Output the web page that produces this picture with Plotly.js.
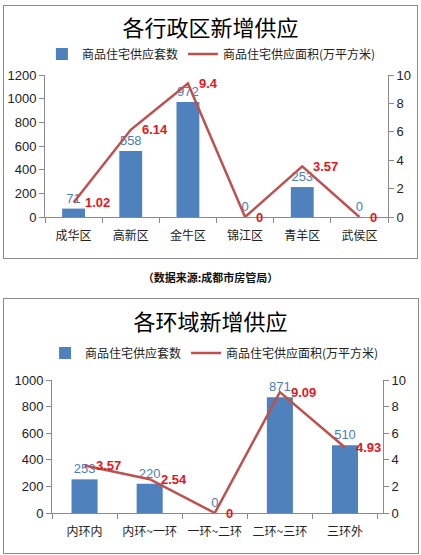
<!DOCTYPE html>
<html>
<head>
<meta charset="utf-8">
<script src="https://cdn.plot.ly/plotly-3.0.1.min.js"></script>
<style>
html,body{margin:0;padding:0;background:#fff;width:421px;height:555px;overflow:hidden;}
#c1{position:absolute;left:0;top:0;width:421px;height:262px;}
#c2{position:absolute;left:0;top:290px;width:421px;height:265px;}
.frame{position:absolute;border:1px solid #8a8a8a;pointer-events:none;}
#src{position:absolute;left:0;top:269px;width:421px;text-align:center;font-family:"Noto Sans CJK SC",sans-serif;font-size:11px;font-weight:bold;color:#111;}
</style>
</head>
<body>
<div id="c1"></div>
<div id="src">（数据来源:成都市房管局）</div>
<div id="c2"></div>
<div class="frame" style="left:3px;top:5px;width:413px;height:252px;"></div>
<div class="frame" style="left:3px;top:298px;width:414px;height:254px;"></div>
<script>
// Chart 1: districts
const districts = ["成华区","高新区","金牛区","锦江区","青羊区","武侯区"];
const districtUnits = [71, 558, 972, 0, 253, 0];
const districtArea = [1.02, 6.14, 9.4, 0, 3.57, 0];
// Chart 2: ring roads
const rings = ["内环内","内环~一环","一环~二环","二环~三环","三环外"];
const ringUnits = [253, 220, 0, 871, 510];
const ringArea = [3.57, 2.54, 0, 9.09, 4.93];

const seriesBarName = "商品住宅供应套数";
const seriesLineName = "商品住宅供应面积(万平方米)";

const FONT = "Liberation Sans, Noto Sans CJK SC, sans-serif";
const CJK = "Noto Sans CJK SC, sans-serif";
const BLUE = "#4F81BD";
const RED = "#C0504D";
const AX = "#8a8a8a";

function makeChart(div, cats, units, area, title, leftMax, height, margin, titleY, legendX, legendY) {
  const bar = {
    type: "bar", x: cats, y: units, name: seriesBarName,
    marker: {color: BLUE},
    text: units.map(String), textposition: "outside",
    textfont: {color: "#4A7EBB", size: 13, family: FONT},
    cliponaxis: false, hoverinfo: "skip"
  };
  const line = {
    type: "scatter", mode: "lines", x: cats, y: area, yaxis: "y2",
    name: seriesLineName,
    line: {color: RED, width: 2.5},
    cliponaxis: false, hoverinfo: "skip"
  };
  const annotations = cats.map((c, i) => ({
    x: c, y: area[i], xref: "x", yref: "y2", text: String(area[i]),
    showarrow: false, xanchor: "left", yanchor: "middle", xshift: 9,
    font: {color: "#E8141C", size: 13, family: "Liberation Sans, sans-serif", weight: "bold"}
  }));
  const layout = {
    width: 421, height: height,
    margin: margin,
    paper_bgcolor: "rgba(0,0,0,0)", plot_bgcolor: "rgba(0,0,0,0)",
    font: {family: FONT, size: 13, color: "#222"},
    title: {text: title, x: 0.5, xanchor: "center", y: titleY, yanchor: "middle", yref: "container",
            font: {family: CJK, size: 22, color: "#000"}},
    showlegend: true,
    legend: {orientation: "h", x: legendX, xanchor: "left", y: legendY, yanchor: "middle",
             font: {family: CJK, size: 12, color: "#222"}, itemwidth: 30, tracegroupgap: 0,
             bgcolor: "rgba(0,0,0,0)"},
    bargap: 0.6,
    annotations: annotations,
    xaxis: {showline: true, linecolor: AX, linewidth: 1, ticks: "outside", tickson: "boundaries",
            ticklen: 5, tickcolor: AX, showgrid: false, zeroline: false, ticklabelstandoff: 8,
            tickfont: {family: CJK, size: 12, color: "#222"}, fixedrange: true},
    yaxis: {range: [0, leftMax], dtick: 200, showline: true, linecolor: AX, ticks: "outside",
            ticklen: 5, tickcolor: AX, showgrid: false, zeroline: false,
            tickfont: {size: 13, color: "#222"}, fixedrange: true},
    yaxis2: {range: [0, 10], dtick: 2, overlaying: "y", side: "right", showline: true, linecolor: AX,
             ticks: "outside", ticklen: 5, tickcolor: AX, showgrid: false, zeroline: false,
             tickfont: {size: 13, color: "#222"}, fixedrange: true}
  };
  Plotly.newPlot(div, [bar, line], layout, {staticPlot: true, displayModeBar: false});
}

makeChart("c1", districts, districtUnits, districtArea, "各行政区新增供应", 1200, 262,
  {l: 45, r: 33, t: 75, b: 45}, 1 - 28/262, -0.009, 1 + 21/142);
makeChart("c2", rings, ringUnits, ringArea, "各环域新增供应", 1000, 265,
  {l: 52, r: 38, t: 90, b: 42}, 1 - 32/265, -0.021, 1 + 27/133);
</script>
</body>
</html>
